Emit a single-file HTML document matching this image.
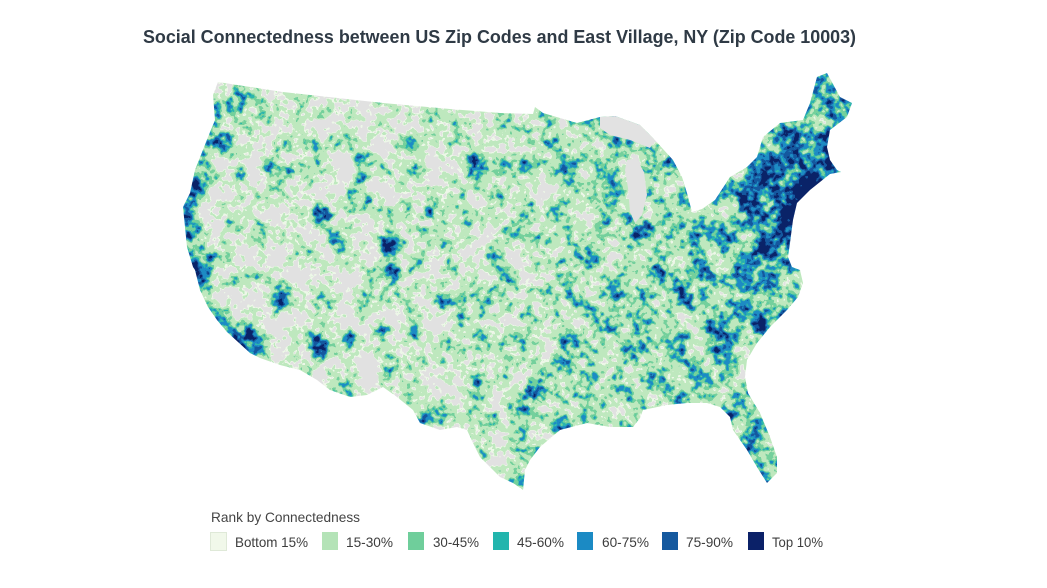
<!DOCTYPE html>
<html><head><meta charset="utf-8"><style>
html,body{margin:0;padding:0;background:#fff;}
svg{display:block;}
</style></head><body>
<svg width="1047" height="588" viewBox="0 0 1047 588" xmlns="http://www.w3.org/2000/svg">
<defs>
<clipPath id="us"><path d="M218,82 L283,92 L383,103 L450,109 L500,113 L533,114 L535,107 L543,113 L577,123 L600,117 L615,116 L640,125 L653,138 L673,160 L682,177 L687,193 L692,212 L702,209 L715,200 L730,177 L747,167 L757,157 L763,137 L780,123 L803,120 L810,103 L817,77 L827,73 L840,97 L852,103 L847,117 L830,130 L827,147 L830,160 L837,170 L841,172 L830,174 L810,190 L797,203 L793,220 L790,243 L788,257 L792,267 L800,270 L803,283 L798,297 L787,310 L770,327 L757,343 L747,360 L745,377 L748,393 L760,413 L770,437 L777,457 L777,473 L767,483 L757,467 L747,450 L733,430 L730,417 L720,407 L707,403 L687,403 L667,405 L643,410 L640,418 L633,427 L610,427 L587,423 L560,430 L540,447 L530,460 L525,470 L523,490 L513,483 L500,477 L490,467 L480,457 L473,443 L467,430 L457,427 L440,430 L420,423 L413,410 L397,397 L383,387 L367,395 L350,397 L330,390 L317,380 L300,370 L280,365 L260,358 L250,353 L238,342 L227,332 L217,320 L208,307 L200,290 L195,270 L193,267 L187,247 L185,227 L183,207 L190,193 L195,170 L208,137 L215,120 L213,95 Z"/></clipPath>
<linearGradient id="base" gradientUnits="userSpaceOnUse" x1="180" y1="0" x2="860" y2="0">
<stop offset="0" stop-color="#545454"/>
<stop offset="0.32" stop-color="#575757"/>
<stop offset="0.44" stop-color="#696969"/>
<stop offset="0.56" stop-color="#757575"/>
<stop offset="0.68" stop-color="#858585"/>
<stop offset="0.79" stop-color="#8c8c8c"/>
<stop offset="0.88" stop-color="#949494"/>
<stop offset="1" stop-color="#999999"/>
</linearGradient>
<filter id="f" filterUnits="userSpaceOnUse" x="0" y="0" width="1047" height="588" color-interpolation-filters="sRGB">
<feTurbulence type="fractalNoise" baseFrequency="0.15" numOctaves="2" seed="7" result="n1"/>
<feColorMatrix in="n1" type="matrix" values="1 0 0 0 0  1 0 0 0 0  1 0 0 0 0  0 0 0 0 1" result="g1"/>
<feTurbulence type="fractalNoise" baseFrequency="0.045" numOctaves="2" seed="3" result="n2"/>
<feColorMatrix in="n2" type="matrix" values="1 0 0 0 0  1 0 0 0 0  1 0 0 0 0  0 0 0 0 1" result="g2"/>
<feGaussianBlur in="SourceGraphic" stdDeviation="4" result="field"/>
<feComposite in="field" in2="g1" operator="arithmetic" k1="0" k2="1" k3="0.8" k4="-0.4" result="s1"/>
<feComposite in="s1" in2="g2" operator="arithmetic" k1="0" k2="1" k3="0.9" k4="-0.45" result="sum"/>
<feComponentTransfer in="sum">
<feFuncR type="discrete" tableValues="0.886 0.886 0.886 0.886 0.886 0.886 0.933 0.749 0.749 0.749 0.749 0.455 0.455 0.173 0.114 0.114 0.082 0.082 0.043 0.043"/>
<feFuncG type="discrete" tableValues="0.886 0.886 0.886 0.886 0.886 0.886 0.969 0.910 0.910 0.910 0.910 0.816 0.816 0.714 0.549 0.549 0.349 0.349 0.141 0.141"/>
<feFuncB type="discrete" tableValues="0.886 0.886 0.886 0.886 0.886 0.886 0.910 0.749 0.749 0.749 0.749 0.612 0.612 0.682 0.769 0.769 0.627 0.627 0.408 0.408"/>
<feFuncA type="linear" slope="0" intercept="1"/>
</feComponentTransfer>
</filter>
</defs>
<rect width="1047" height="588" fill="#fff"/>

<g clip-path="url(#us)">
<g filter="url(#f)">
<rect x="0" y="0" width="1047" height="588" fill="url(#base)"/>
<polyline points="215,100 210,140 197,175 190,210 192,250 200,285 215,315 240,340 262,358" fill="none" stroke="#a3a3a3" stroke-width="20"/>
<polygon points="740,175 763,135 780,125 805,120 812,100 830,110 832,140 835,170 815,190 800,215 792,250 772,258 752,245 738,205" fill="#c7c7c7"/>
<polygon points="812,78 830,78 850,105 835,130 815,128 805,110" fill="#a3a3a3"/>
<ellipse cx="797" cy="198" rx="9" ry="22" fill="#fafafa"/>
<circle cx="790" cy="215" r="9" fill="#dbdbdb"/>
<circle cx="780" cy="232" r="11" fill="#d4d4d4"/>
<circle cx="830" cy="160" r="9" fill="#dbdbdb"/>
<circle cx="815" cy="180" r="11" fill="#dbdbdb"/>
<circle cx="740" cy="215" r="9" fill="#b3b3b3"/>
<polygon points="745,250 790,255 795,290 770,325 745,350 720,340 730,290" fill="#a8a8a8"/>
<polygon points="735,420 750,400 765,430 778,470 765,485 745,455" fill="#b8b8b8"/>
<circle cx="715" cy="330" r="12" fill="#c2c2c2"/>
<circle cx="750" cy="300" r="9" fill="#b8b8b8"/>
<circle cx="775" cy="285" r="9" fill="#b8b8b8"/>
<circle cx="680" cy="300" r="9" fill="#b3b3b3"/>
<circle cx="700" cy="255" r="9" fill="#b3b3b3"/>
<circle cx="685" cy="205" r="9" fill="#b3b3b3"/>
<circle cx="650" cy="225" r="9" fill="#b3b3b3"/>
<circle cx="620" cy="285" r="8" fill="#b3b3b3"/>
<circle cx="640" cy="330" r="8" fill="#adadad"/>
<circle cx="660" cy="415" r="8" fill="#adadad"/>
<circle cx="565" cy="165" r="10" fill="#b8b8b8"/>
<circle cx="600" cy="175" r="7" fill="#adadad"/>
<circle cx="565" cy="280" r="8" fill="#adadad"/>
<circle cx="520" cy="340" r="8" fill="#a8a8a8"/>
<circle cx="540" cy="390" r="13" fill="#c2c2c2"/>
<circle cx="563" cy="428" r="12" fill="#c2c2c2"/>
<circle cx="520" cy="432" r="10" fill="#b3b3b3"/>
<circle cx="425" cy="420" r="9" fill="#cfcfcf"/>
<circle cx="390" cy="247" r="11" fill="#d4d4d4"/>
<circle cx="395" cy="272" r="7" fill="#c2c2c2"/>
<circle cx="322" cy="215" r="9" fill="#b8b8b8"/>
<circle cx="270" cy="165" r="7" fill="#adadad"/>
<circle cx="262" cy="110" r="7" fill="#a8a8a8"/>
<circle cx="235" cy="105" r="12" fill="#b8b8b8"/>
<circle cx="222" cy="142" r="9" fill="#b3b3b3"/>
<circle cx="240" cy="225" r="6" fill="#a8a8a8"/>
<circle cx="320" cy="345" r="12" fill="#b8b8b8"/>
<circle cx="330" cy="370" r="6" fill="#adadad"/>
<circle cx="283" cy="290" r="8" fill="#b8b8b8"/>
<circle cx="380" cy="330" r="8" fill="#adadad"/>
<circle cx="203" cy="262" r="12" fill="#c7c7c7"/>
<circle cx="243" cy="335" r="14" fill="#c7c7c7"/>
<circle cx="258" cy="355" r="8" fill="#bdbdbd"/>
<g fill="#c4c4c4">
<circle cx="240" cy="93" r="7"/><circle cx="257" cy="103" r="6"/><circle cx="230" cy="133" r="6"/>
<circle cx="313" cy="143" r="8"/><circle cx="323" cy="112" r="5"/><circle cx="357" cy="160" r="7"/>
<circle cx="360" cy="177" r="6"/><circle cx="353" cy="193" r="7"/><circle cx="367" cy="197" r="6"/>
<circle cx="310" cy="183" r="6"/><circle cx="293" cy="170" r="6"/><circle cx="267" cy="203" r="5"/>
<circle cx="240" cy="177" r="6"/><circle cx="417" cy="170" r="6"/><circle cx="403" cy="187" r="6"/>
<circle cx="430" cy="213" r="6"/><circle cx="470" cy="223" r="6"/><circle cx="483" cy="123" r="5"/>
<circle cx="467" cy="210" r="5"/><circle cx="410" cy="140" r="6"/><circle cx="333" cy="240" r="7"/>
<circle cx="340" cy="252" r="6"/><circle cx="400" cy="247" r="8"/><circle cx="417" cy="260" r="7"/>
<circle cx="387" cy="262" r="7"/><circle cx="443" cy="243" r="6"/><circle cx="470" cy="160" r="5"/>
<circle cx="280" cy="303" r="6"/><circle cx="310" cy="337" r="7"/><circle cx="323" cy="353" r="6"/>
<circle cx="350" cy="337" r="6"/><circle cx="383" cy="297" r="6"/><circle cx="393" cy="283" r="6"/>
<circle cx="413" cy="330" r="6"/><circle cx="443" cy="300" r="6"/><circle cx="435" cy="420" r="7"/>
<circle cx="460" cy="320" r="6"/><circle cx="493" cy="417" r="6"/><circle cx="477" cy="287" r="5"/>
<circle cx="210" cy="170" r="5"/><circle cx="215" cy="215" r="5"/><circle cx="262" cy="250" r="5"/>
</g>
</g>
<polygon points="600,117 615,116 640,125 655,140 650,148 630,140 610,135 600,128" fill="#e2e2e2"/>
<polygon points="627,160 636,158 644,172 647,195 642,215 635,223 630,212 628,188 625,170" fill="#e2e2e2"/>
</g>

<text x="143" y="43" font-family="'Liberation Sans', sans-serif" font-weight="bold" font-size="18" fill="#2f3a45" textLength="713" lengthAdjust="spacingAndGlyphs">Social Connectedness between US Zip Codes and East Village, NY (Zip Code 10003)</text>

<text x="211" y="522" font-family="'Liberation Sans', sans-serif" font-size="14" fill="#444" textLength="149" lengthAdjust="spacingAndGlyphs">Rank by Connectedness</text>

<g font-family="'Liberation Sans', sans-serif" font-size="14" fill="#3d3d3d">
<rect x="210.5" y="532.5" width="16" height="18" fill="#f1f8ea" stroke="#dfe9d8"/>
<text x="235" y="547" textLength="73" lengthAdjust="spacingAndGlyphs">Bottom 15%</text>
<rect x="322" y="532" width="16" height="18" fill="#b4e3b7"/>
<text x="346" y="547" textLength="47" lengthAdjust="spacingAndGlyphs">15-30%</text>
<rect x="408" y="532" width="16" height="18" fill="#6fce9b"/>
<text x="433" y="547" textLength="46" lengthAdjust="spacingAndGlyphs">30-45%</text>
<rect x="493" y="532" width="16" height="18" fill="#22b5ad"/>
<text x="517" y="547" textLength="47" lengthAdjust="spacingAndGlyphs">45-60%</text>
<rect x="577" y="532" width="16" height="18" fill="#1b8ac4"/>
<text x="602" y="547" textLength="47" lengthAdjust="spacingAndGlyphs">60-75%</text>
<rect x="662" y="532" width="16" height="18" fill="#15599f"/>
<text x="686" y="547" textLength="47" lengthAdjust="spacingAndGlyphs">75-90%</text>
<rect x="748" y="532" width="16" height="18" fill="#0b2168"/>
<text x="772" y="547" textLength="51" lengthAdjust="spacingAndGlyphs">Top 10%</text>
</g>
</svg>
</body></html>
